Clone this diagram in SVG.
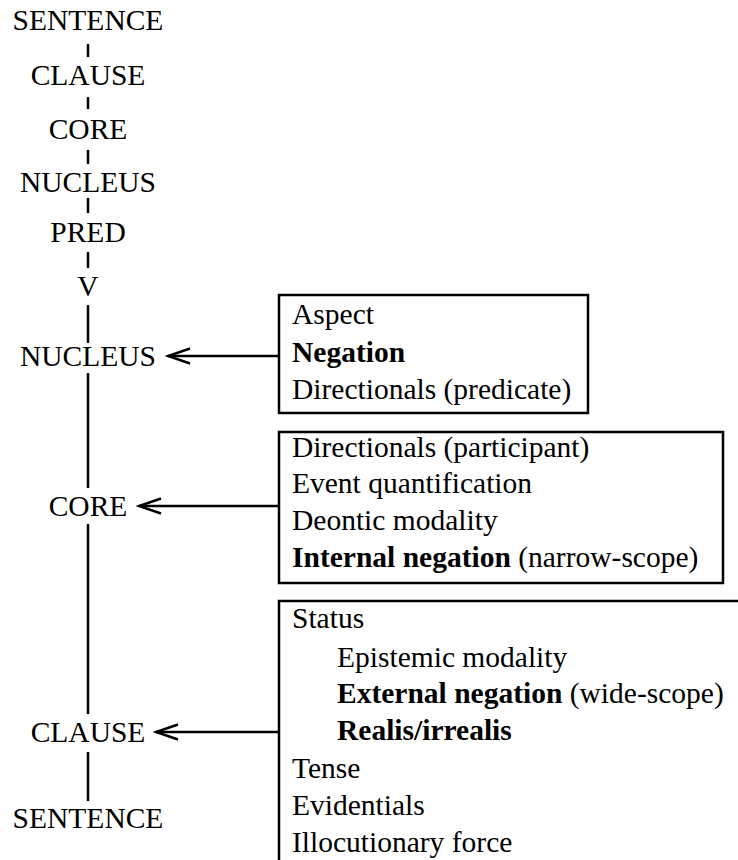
<svg xmlns="http://www.w3.org/2000/svg" width="738" height="860" viewBox="0 0 738 860">
  <style>
    text { font-family: "Liberation Serif", "Times New Roman", serif; font-size: 29.5px; fill: #000; }
    .lbl { text-anchor: middle; }
    .b { font-weight: bold; }
    .ln { stroke: #000; stroke-width: 2.5; fill: none; }
    .box { stroke: #000; stroke-width: 2.5; fill: #fff; }
  </style>
  <defs>
    <marker id="open-arrow" viewBox="0 0 26 20" refX="23" refY="10" markerWidth="26" markerHeight="20" markerUnits="userSpaceOnUse" orient="auto">
      <path d="M1,2.5 L23,10 L1,17.5" fill="none" stroke="#000" stroke-width="2.5"/>
    </marker>
  </defs>

  <rect width="738" height="860" fill="#fff"/>

  <!-- connectors: tree stems and arrows -->
  <g id="connectors">
    <line class="ln" x1="88" y1="44" x2="88" y2="57"/>
    <line class="ln" x1="88" y1="97" x2="88" y2="109"/>
    <line class="ln" x1="88" y1="150" x2="88" y2="164"/>
    <line class="ln" x1="88" y1="198" x2="88" y2="213"/>
    <line class="ln" x1="88" y1="252" x2="88" y2="268"/>
    <line class="ln" x1="88" y1="305" x2="88" y2="343"/>
    <line class="ln" x1="88" y1="373" x2="88" y2="488"/>
    <line class="ln" x1="88" y1="524" x2="88" y2="714"/>
    <line class="ln" x1="88" y1="752" x2="88" y2="801"/>
    <line class="ln" x1="279" y1="356" x2="168" y2="356" marker-end="url(#open-arrow)"/>
    <line class="ln" x1="279" y1="506" x2="139" y2="506" marker-end="url(#open-arrow)"/>
    <line class="ln" x1="279" y1="732" x2="156" y2="732" marker-end="url(#open-arrow)"/>
  </g>

  <!-- upper tree -->
  <g id="tree-sentence"><text class="lbl" x="88" y="30">SENTENCE</text></g>
  <g id="tree-clause"><text class="lbl" x="88" y="85">CLAUSE</text></g>
  <g id="tree-core"><text class="lbl" x="88" y="139">CORE</text></g>
  <g id="tree-nucleus"><text class="lbl" x="88" y="192">NUCLEUS</text></g>
  <g id="tree-pred"><text class="lbl" x="88" y="242">PRED</text></g>
  <g id="tree-v"><text class="lbl" x="88" y="296">V</text></g>

  <!-- operator projection -->
  <g id="op-nucleus"><text class="lbl" x="88" y="366">NUCLEUS</text></g>
  <g id="op-core"><text class="lbl" x="88" y="516">CORE</text></g>
  <g id="op-clause"><text class="lbl" x="88" y="742">CLAUSE</text></g>
  <g id="op-sentence"><text class="lbl" x="88" y="828">SENTENCE</text></g>

  <!-- nuclear operators -->
  <g id="box-nucleus">
    <rect class="box" x="279" y="295" width="309" height="118"/>
    <text x="292" y="324">Aspect</text>
    <text x="292" y="362" class="b">Negation</text>
    <text x="292" y="399">Directionals (predicate)</text>
  </g>

  <!-- core operators -->
  <g id="box-core">
    <rect class="box" x="279" y="432" width="444" height="151"/>
    <text x="292" y="457">Directionals (participant)</text>
    <text x="292" y="493">Event quantification</text>
    <text x="292" y="530">Deontic modality</text>
    <text x="292" y="567"><tspan class="b">Internal negation</tspan> (narrow-scope)</text>
  </g>

  <!-- clausal operators -->
  <g id="box-clause">
    <path class="ln" d="M740,601 H279 V862"/>
    <text x="292" y="628">Status</text>
    <text x="337" y="667">Epistemic modality</text>
    <text x="337" y="703"><tspan class="b">External negation</tspan> (wide-scope)</text>
    <text x="337" y="740" class="b">Realis/irrealis</text>
    <text x="292" y="778">Tense</text>
    <text x="292" y="815">Evidentials</text>
    <text x="292" y="852">Illocutionary force</text>
  </g>
</svg>
